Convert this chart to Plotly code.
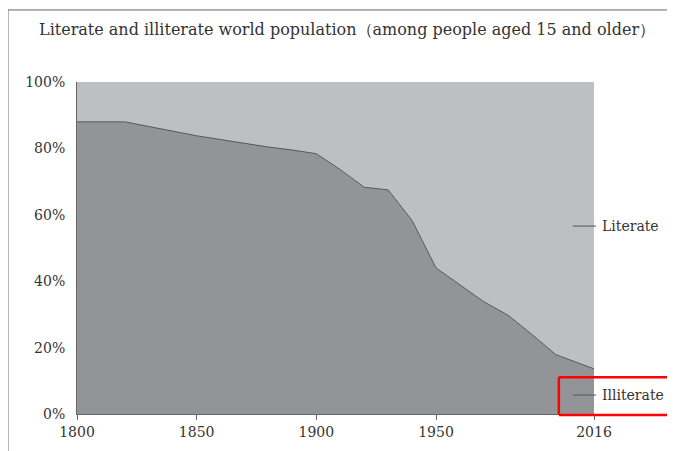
import plotly.graph_objects as go

years = [1800, 1820, 1850, 1870, 1880, 1890, 1900, 1910, 1920, 1930, 1940, 1950, 1960, 1970, 1980, 1990, 2000, 2016]
illiterate = [88.0, 88.0, 83.8, 81.5, 80.4, 79.5, 78.4, 73.6, 68.3, 67.5, 58.3, 44.0, 38.8, 33.8, 29.8, 24.0, 17.9, 13.6]
literate = [round(100 - v, 1) for v in illiterate]
x_ticks = [1800, 1850, 1900, 1950, 2016]
y_ticks = [0, 20, 40, 60, 80, 100]
y_tick_labels = ["0%", "20%", "40%", "60%", "80%", "100%"]

FONT = "DejaVu Serif"
TXT = "#333333"

fig = go.Figure()
fig.add_trace(go.Scatter(
    x=years, y=illiterate, stackgroup="one", mode="lines",
    line=dict(color="#555555", width=1), fillcolor="#939497",
    name="Illiterate", hoverinfo="x+y"))
fig.add_trace(go.Scatter(
    x=years, y=literate, stackgroup="one", mode="lines",
    line=dict(color="#bebfc3", width=0), fillcolor="#bebfc3",
    name="Literate", hoverinfo="x+y"))

fig.update_layout(
    width=667, height=443,
    margin=dict(l=69, r=81, t=74, b=37),
    paper_bgcolor="white", plot_bgcolor="white",
    showlegend=False,
    font=dict(family=FONT, size=14, color=TXT),
    xaxis=dict(range=[1800, 2016], tickvals=x_ticks, ticktext=[str(t) for t in x_ticks],
               showgrid=False, zeroline=False, showline=True, linecolor="#666666", linewidth=1,
               ticks="outside", ticklen=5, tickcolor="#666666",
               tickfont=dict(family=FONT, size=14, color=TXT)),
    yaxis=dict(range=[0, 100], tickvals=y_ticks, ticktext=y_tick_labels,
               showgrid=False, zeroline=False, showline=True, linecolor="#666666", linewidth=1,
               ticks="", ticklabelstandoff=8,
               tickfont=dict(family=FONT, size=14, color=TXT)),
)

# Title
fig.add_annotation(text="Literate and illiterate world population（among people aged 15 and older）",
                   xref="paper", yref="paper", x=0.522, y=1.157, showarrow=False,
                   xanchor="center", yanchor="middle",
                   font=dict(family=FONT, size=16, color=TXT))

# Series labels with leader lines
for label, yp in [("Literate", 0.566), ("Illiterate", 0.057)]:
    fig.add_shape(type="line", xref="paper", yref="paper", x0=0.959, x1=1.004, y0=yp, y1=yp,
                  line=dict(color="#555555", width=1))
    fig.add_annotation(text=label, xref="paper", yref="paper", x=1.012, y=yp, showarrow=False,
                       xanchor="left", yanchor="middle", font=dict(family=FONT, size=14, color=TXT))

# Frame lines
fig.add_shape(type="line", xref="paper", yref="paper", x0=-0.1335, x1=-0.1335, y0=1.217, y1=-0.2,
              line=dict(color="#666666", width=1))
fig.add_shape(type="line", xref="paper", yref="paper", x0=-0.1335, x1=1.3, y0=1.217, y1=1.217,
              line=dict(color="#666666", width=1))

# Red highlight box (open to the right, running off the page)
RED = dict(color="#ff0000", width=2.5)
fig.add_shape(type="line", xref="paper", yref="paper", x0=0.932, x1=1.3, y0=0.111, y1=0.111, line=RED)
fig.add_shape(type="line", xref="paper", yref="paper", x0=0.932, x1=1.3, y0=-0.003, y1=-0.003, line=RED)
fig.add_shape(type="line", xref="paper", yref="paper", x0=0.932, x1=0.932, y0=-0.003, y1=0.111, line=RED)

fig.write_html("out.html")
